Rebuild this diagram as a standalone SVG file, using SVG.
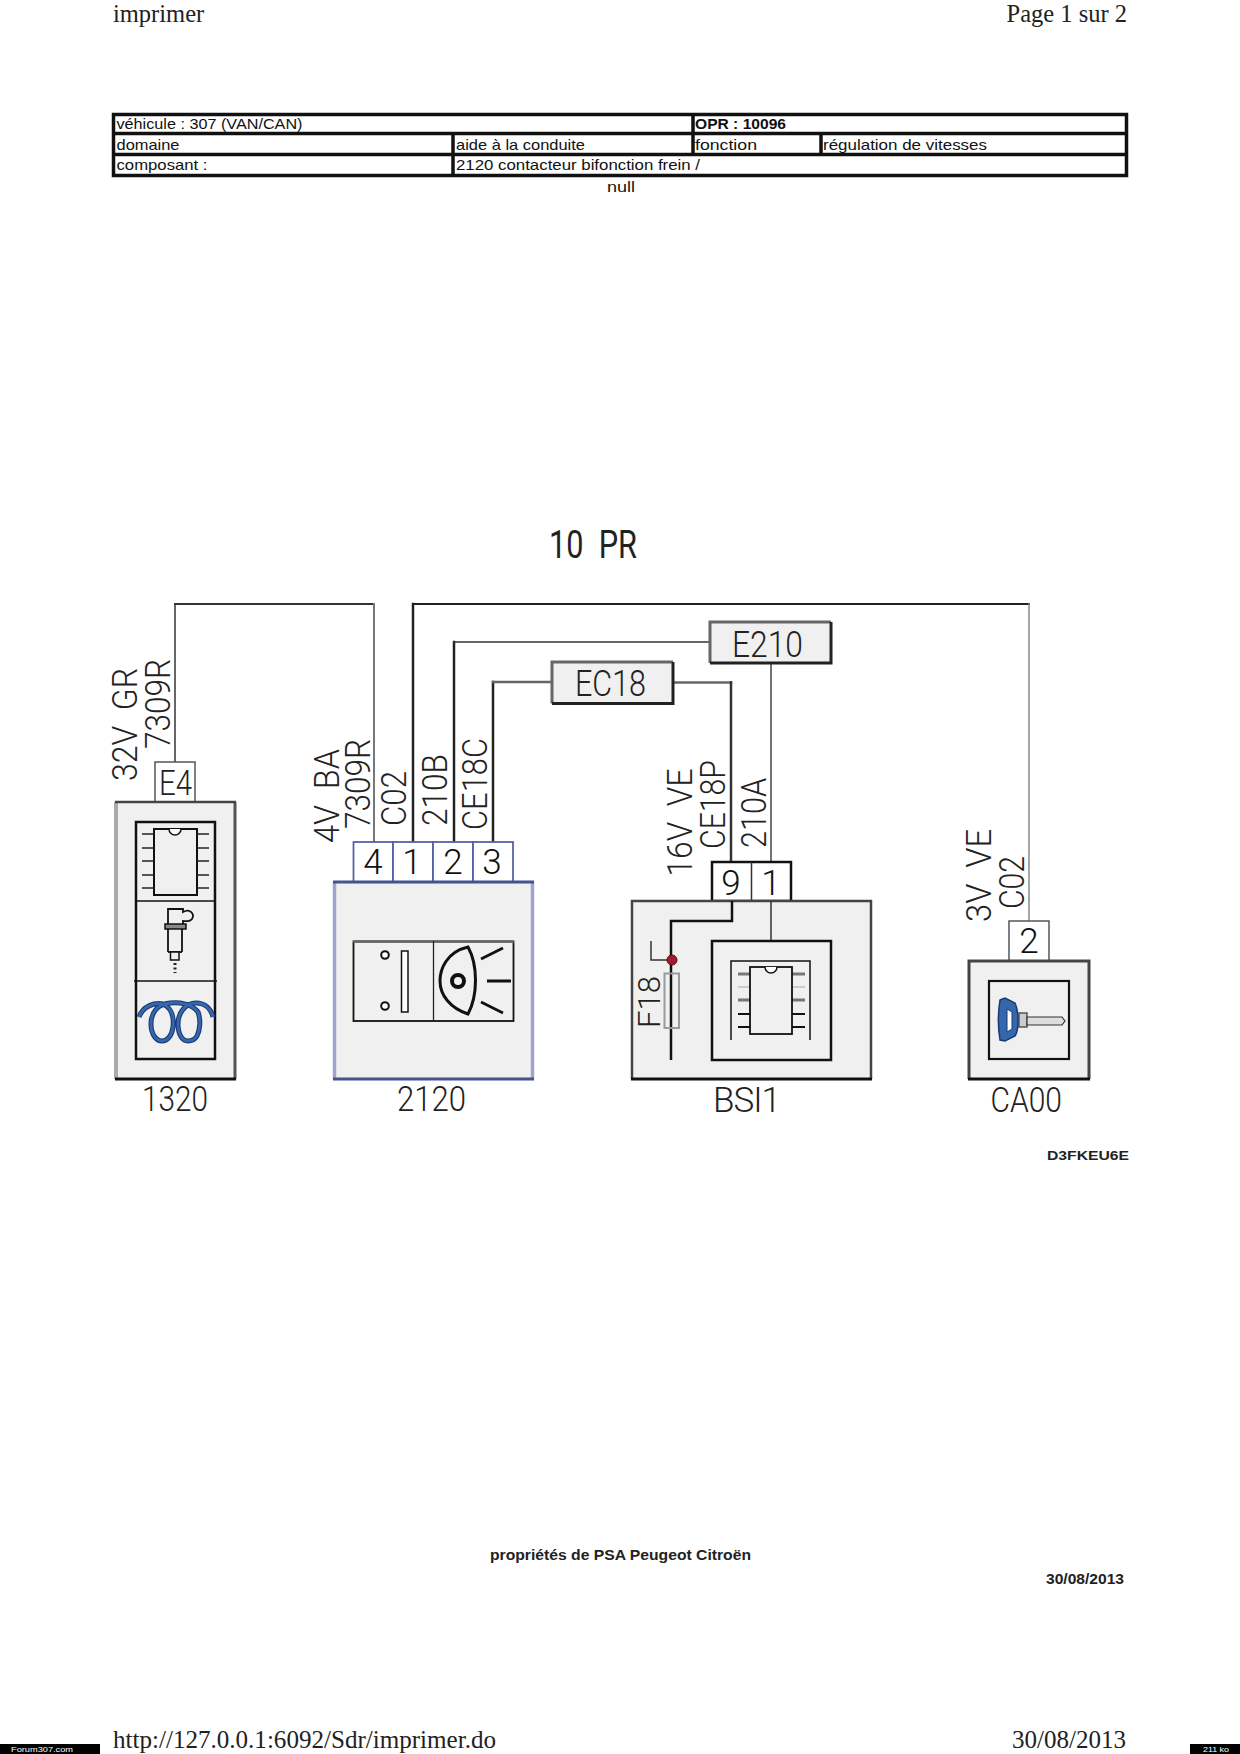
<svg xmlns="http://www.w3.org/2000/svg" width="1240" height="1754" viewBox="0 0 1240 1754">
<style>
text{font-family:"Liberation Sans",Arial,sans-serif;fill:#222}
.s{font-family:"Liberation Serif","Times New Roman",serif;font-size:24.5px;fill:#222}
.t{font-size:15px;fill:#111}
.b{font-weight:bold}
.big{font-family:Roboto,"Liberation Sans",sans-serif;font-weight:300;font-size:35px;fill:#222;white-space:pre}
.pin{font-family:Roboto,"Liberation Sans",sans-serif;font-weight:300;font-size:35px;fill:#111;text-anchor:middle}
.lab{font-family:Roboto,"Liberation Sans",sans-serif;font-weight:300;font-size:35px;fill:#222}
.box{fill:#f0f0f0}
.white{fill:#fff}
.w{fill:none;stroke-linecap:square}
.tb{stroke:#111;stroke-width:3.5;fill:none}
</style>
<rect width="1240" height="1754" fill="#fff"/>

<g id="page-header">
<text class="s" x="113" y="22">imprimer</text>
<text class="s" x="1127" y="22" text-anchor="end">Page 1 sur 2</text>
</g>

<g id="info-table">
<rect class="tb" x="113.500" y="114.500" width="1013" height="61"/>
<path class="tb" d="M113 133.500H1127M113 154.500H1127M453 133.500V176M693 114V154.500M821 133.500V154.500"/>
<text class="t" x="116.500" y="129" textLength="186" lengthAdjust="spacingAndGlyphs">véhicule : 307 (VAN/CAN)</text>
<text class="t b" x="695" y="129" textLength="91" lengthAdjust="spacingAndGlyphs">OPR : 10096</text>
<text class="t" x="116.500" y="150" textLength="63" lengthAdjust="spacingAndGlyphs">domaine</text>
<text class="t" x="456" y="150" textLength="129" lengthAdjust="spacingAndGlyphs">aide à la conduite</text>
<text class="t" x="695" y="150" textLength="62" lengthAdjust="spacingAndGlyphs">fonction</text>
<text class="t" x="823" y="150" textLength="164" lengthAdjust="spacingAndGlyphs">régulation de vitesses</text>
<text class="t" x="116.500" y="170" textLength="91" lengthAdjust="spacingAndGlyphs">composant :</text>
<text class="t" x="456" y="170" textLength="244" lengthAdjust="spacingAndGlyphs">2120 contacteur bifonction frein /</text>
<text class="t" x="607" y="192" textLength="28" lengthAdjust="spacingAndGlyphs">null</text>
</g>

<text id="title" class="big" x="549" y="558" style="font-size:38px;font-weight:400" textLength="88" lengthAdjust="spacingAndGlyphs">10  PR</text>

<g id="connectors">
<path class="w" stroke="#666" stroke-width="2" d="M175 762V604"/>
<path class="w" stroke="#333" stroke-width="2" d="M175 604H374"/>
<path class="w" stroke="#777" stroke-width="2" d="M374 604V842"/>
<path class="w" stroke="#222" stroke-width="2.500" d="M413 842V604"/>
<path class="w" stroke="#222" stroke-width="2" d="M413 604H1029"/>
<path class="w" stroke="#888" stroke-width="1.500" d="M1029 604V921"/>
<path class="w" stroke="#222" stroke-width="2.500" d="M454 842V642"/>
<path class="w" stroke="#333" stroke-width="1.500" d="M454 642H710"/>
<path class="w" stroke="#222" stroke-width="2.500" d="M493 842V682"/>
<path class="w" stroke="#666" stroke-width="2.500" d="M493 682H552"/>
<path class="w" stroke="#666" stroke-width="2.500" d="M673 682.500H731"/>
<path class="w" stroke="#333" stroke-width="2.500" d="M731 682.500V862"/>
<path class="w" stroke="#444" stroke-width="1.500" d="M771 663V862"/>
</g>

<g id="node-E210">
<rect class="box" x="710" y="622" width="121" height="41"/>
<path fill="none" stroke="#666" stroke-width="3" d="M710 663V622H831"/>
<path fill="none" stroke="#222" stroke-width="3" d="M831 622V663H710"/>
<text class="lab" x="732" y="656.500" style="font-size:37px" textLength="71" lengthAdjust="spacingAndGlyphs">E210</text>
</g>

<g id="node-EC18">
<rect class="box" x="552" y="662" width="121" height="41.500"/>
<path fill="none" stroke="#666" stroke-width="3" d="M552 703.500V662H673"/>
<path fill="none" stroke="#222" stroke-width="3" d="M673 662V703.500H552"/>
<text class="lab" x="575" y="695.500" style="font-size:36px" textLength="71" lengthAdjust="spacingAndGlyphs">EC18</text>
</g>

<g id="node-1320">
<rect class="white" x="155" y="762" width="40" height="40" stroke="#555" stroke-width="1.500"/>
<text class="lab" x="159" y="795" textLength="33" lengthAdjust="spacingAndGlyphs">E4</text>
<rect class="box" x="115" y="802" width="120" height="277"/>
<path fill="none" stroke="#aaa" stroke-width="4" d="M116 802V1079"/>
<path fill="none" stroke="#555" stroke-width="3" d="M235 802V1079"/>
<path fill="none" stroke="#444" stroke-width="2.500" d="M115 802H236"/>
<path fill="none" stroke="#111" stroke-width="3" d="M115 1079H236"/>
<rect x="136" y="822" width="79" height="237" fill="none" stroke="#111" stroke-width="2.500"/>
<path fill="none" stroke="#111" stroke-width="1.500" d="M136 901H215M134 981H217"/>
<rect x="154" y="829" width="43" height="66" fill="#f0f0f0" stroke="#111" stroke-width="2"/>
<path d="M169 829a6 6 0 0 0 12 0" fill="#fff" stroke="#111" stroke-width="1.500"/>
<path fill="none" stroke="#222" stroke-width="1.500" d="M142 834H154M142 848H154M142 861H154M142 875H154M142 888H154M197 834H209M197 848H209M197 861H209M197 875H209M197 888H209"/>
<path fill="none" stroke="#111" stroke-width="1.800" d="M168 924V909H183V912C190 908 195 914 192 919C190 922 184 921 183 921V924M168 929V952M182 929V952"/>
<rect x="165" y="924" width="21" height="5" fill="#888" stroke="#111" stroke-width="1.500"/>
<path fill="none" stroke="#111" stroke-width="1.800" d="M168 952H182"/>
<rect x="170.500" y="952" width="8.500" height="8" fill="#f0f0f0" stroke="#111" stroke-width="1.500"/>
<path stroke="#222" stroke-width="3" stroke-dasharray="2 2.500" fill="none" d="M175 963V973"/>
<path fill="none" stroke="#1b3a70" stroke-width="5" d="M139 1017C143 1006 155 1002 163 1004C172 1008 174 1018 173 1027C172 1036 167 1041 162 1041C156 1041 151 1034 151 1024C151 1012 158 1004 170 1003C180 1002 192 1004 198 1012C201 1020 200 1030 197 1036C194 1041 190 1041 188 1041C182 1041 178 1034 178 1024C178 1012 186 1003 196 1003C205 1003 211 1009 213 1017"/>
<path fill="none" stroke="#3566ae" stroke-width="2.800" d="M139 1017C143 1006 155 1002 163 1004C172 1008 174 1018 173 1027C172 1036 167 1041 162 1041C156 1041 151 1034 151 1024C151 1012 158 1004 170 1003C180 1002 192 1004 198 1012C201 1020 200 1030 197 1036C194 1041 190 1041 188 1041C182 1041 178 1034 178 1024C178 1012 186 1003 196 1003C205 1003 211 1009 213 1017"/>
<text class="lab" x="142" y="1111" textLength="66" lengthAdjust="spacingAndGlyphs">1320</text>
</g>

<g id="node-2120">
<g fill="#fff" stroke="#5563a5" stroke-width="1.800">
<rect x="353.500" y="842" width="39.500" height="40"/>
<rect x="393" y="842" width="40" height="40"/>
<rect x="433" y="842" width="40" height="40"/>
<rect x="473" y="842" width="40" height="40"/>
</g>
<text class="pin" x="373" y="874">4</text>
<text class="pin" x="412" y="874">1</text>
<text class="pin" x="453" y="874">2</text>
<text class="pin" x="492" y="874">3</text>
<rect class="box" x="334" y="882" width="199" height="197"/>
<path fill="none" stroke="#a0a4cc" stroke-width="3.500" d="M334.500 882V1079M532.500 882V1079"/>
<path fill="none" stroke="#44528f" stroke-width="3" d="M333 882H534M333 1079H534"/>
<rect x="353.500" y="941.500" width="160" height="79.500" fill="none" stroke="#111" stroke-width="1.800"/>
<path fill="none" stroke="#666" stroke-width="2.500" d="M353 941.500H514"/>
<path fill="none" stroke="#222" stroke-width="1.300" d="M433.500 941V1021"/>
<circle cx="385" cy="955" r="3.800" fill="#fff" stroke="#111" stroke-width="2"/>
<circle cx="385" cy="1006" r="3.800" fill="#fff" stroke="#111" stroke-width="2"/>
<rect x="401.500" y="951" width="6.500" height="61" fill="#fff" stroke="#111" stroke-width="1.500"/>
<path fill="none" stroke="#111" stroke-width="3" d="M468 947C446 952 440 970 440 981C440 995 450 1008 468 1014C478 995 478 965 468 947Z"/>
<circle cx="458" cy="981" r="6" fill="none" stroke="#111" stroke-width="4"/>
<path fill="none" stroke="#111" stroke-width="2.800" d="M481 959L503 948M487 981H511M481 1002L503 1013"/>
<text class="lab" x="397" y="1111" textLength="69" lengthAdjust="spacingAndGlyphs">2120</text>
</g>

<g id="node-BSI1">
<rect class="white" x="712" y="862" width="79" height="39" stroke="#111" stroke-width="2.500"/>
<path stroke="#333" stroke-width="1.500" d="M751.500 862V901"/>
<text class="pin" x="731" y="895">9</text>
<text class="pin" x="771" y="895">1</text>
<rect class="box" x="632" y="901" width="239" height="178"/>
<path fill="none" stroke="#444" stroke-width="2.500" d="M632 1079V901H871V1079"/>
<path fill="none" stroke="#111" stroke-width="3" d="M631 1079H872"/>
<path fill="none" stroke="#111" stroke-width="2.500" d="M732 901V921H671V1060"/>
<path fill="none" stroke="#333" stroke-width="1.500" d="M771 901V941"/>
<rect x="712" y="941" width="119" height="119" fill="none" stroke="#111" stroke-width="2.500"/>
<path fill="none" stroke="#111" stroke-width="1.500" d="M731 1040V961H810V1040"/>
<path fill="none" stroke="#777" stroke-width="3" d="M738 974H750M792 974H805M738 1000H750M792 1000H805"/>
<path fill="none" stroke="#aaa" stroke-width="1" d="M738 987H750M792 987H805"/>
<path fill="none" stroke="#111" stroke-width="2" d="M738 1014H750M792 1014H805M738 1027H750M792 1027H805"/>
<rect x="750" y="967" width="42" height="67" fill="#f0f0f0" stroke="#111" stroke-width="1.800"/>
<path d="M765 967a6 6 0 0 0 12 0" fill="#fff" stroke="#111" stroke-width="1.500"/>
<rect x="664.500" y="973.500" width="14.500" height="54.500" fill="none" stroke="#999" stroke-width="2"/>
<path fill="none" stroke="#333" stroke-width="1.500" d="M672 960H651V941"/>
<circle cx="672" cy="960" r="5" fill="#a01c2c" stroke="#5a1018" stroke-width="1"/>
<text class="lab" x="713" y="1112" textLength="68" lengthAdjust="spacing">BSI1</text>
</g>

<g id="node-CA00">
<rect class="white" x="1009" y="921" width="40" height="40" stroke="#555" stroke-width="1.500"/>
<text class="pin" x="1029" y="953">2</text>
<rect class="box" x="969" y="961" width="120" height="118"/>
<path fill="none" stroke="#444" stroke-width="3" d="M969 1079V961H1089V1079"/>
<path fill="none" stroke="#111" stroke-width="3" d="M968 1079H1090"/>
<rect x="989" y="981" width="80" height="78" fill="none" stroke="#111" stroke-width="2.200"/>
<rect x="1019" y="1013" width="8" height="14" fill="#ccc" stroke="#555" stroke-width="1.500"/>
<path fill="#ddd" stroke="#333" stroke-width="1.200" d="M1027 1017H1062L1065 1021L1062 1025H1027Z"/>
<path fill="#3566ae" stroke="#1b3a70" stroke-width="1.500" d="M1000 1000L1005 998L1015 1003C1019 1012 1019 1030 1015 1036L1005 1041L1000 1040C998 1028 998 1012 1000 1000Z"/>
<path fill="#fff" stroke="#1b3a70" stroke-width="1" d="M1007 1009L1012 1012V1029L1007 1032Z"/>
<text class="lab" x="990.500" y="1112" textLength="71.500" lengthAdjust="spacingAndGlyphs">CA00</text>
</g>

<g id="wire-labels">
<text class="big" transform="translate(137,781) rotate(-90)" textLength="113" lengthAdjust="spacingAndGlyphs">32V  GR</text>
<text class="big" transform="translate(170,749) rotate(-90)" textLength="90" lengthAdjust="spacingAndGlyphs">7309R</text>
<text class="big" transform="translate(339,843) rotate(-90)" textLength="94" lengthAdjust="spacingAndGlyphs">4V  BA</text>
<text class="big" transform="translate(370,829) rotate(-90)" textLength="90" lengthAdjust="spacingAndGlyphs">7309R</text>
<text class="big" transform="translate(406,826) rotate(-90)" textLength="55" lengthAdjust="spacingAndGlyphs">C02</text>
<text class="big" transform="translate(446.500,826) rotate(-90)" textLength="72" lengthAdjust="spacingAndGlyphs">210B</text>
<text class="big" transform="translate(486.500,830) rotate(-90)" textLength="92" lengthAdjust="spacingAndGlyphs">CE18C</text>
<text class="big" transform="translate(692,876.500) rotate(-90)" textLength="108" lengthAdjust="spacingAndGlyphs">16V  VE</text>
<text class="big" transform="translate(725,849) rotate(-90)" textLength="89" lengthAdjust="spacingAndGlyphs">CE18P</text>
<text class="big" transform="translate(765.500,848) rotate(-90)" textLength="70" lengthAdjust="spacingAndGlyphs">210A</text>
<text class="big" transform="translate(990.500,922) rotate(-90)" textLength="93" lengthAdjust="spacingAndGlyphs">3V  VE</text>
<text class="big" transform="translate(1024,909) rotate(-90)" textLength="53" lengthAdjust="spacingAndGlyphs">C02</text>
<text class="big" transform="translate(659.500,1028) rotate(-90)" textLength="52" lengthAdjust="spacingAndGlyphs" style="font-size:31px">F18</text>
</g>

<text id="drawing-ref" x="1047" y="1160" font-size="13" font-weight="bold" textLength="82" lengthAdjust="spacingAndGlyphs">D3FKEU6E</text>

<g id="page-footer">
<text x="490" y="1560" font-size="14" textLength="261" lengthAdjust="spacingAndGlyphs" font-weight="bold">propriétés de PSA Peugeot Citroën</text>
<text x="1046" y="1584" font-size="14" font-weight="bold" textLength="78" lengthAdjust="spacingAndGlyphs">30/08/2013</text>
<text class="s" x="113" y="1748" textLength="383" lengthAdjust="spacingAndGlyphs">http://127.0.0.1:6092/Sdr/imprimer.do</text>
<text class="s" x="1012" y="1748" textLength="114" lengthAdjust="spacingAndGlyphs">30/08/2013</text>
<rect x="0" y="1744" width="100" height="10" fill="#000"/>
<text x="11" y="1752" font-size="8" style="fill:#fff" textLength="62" lengthAdjust="spacingAndGlyphs">Forum307.com</text>
<rect x="1190" y="1744" width="50" height="10" fill="#000"/>
<text x="1203" y="1752" font-size="8" style="fill:#fff" textLength="26" lengthAdjust="spacingAndGlyphs">211 ko</text>
</g>
</svg>
